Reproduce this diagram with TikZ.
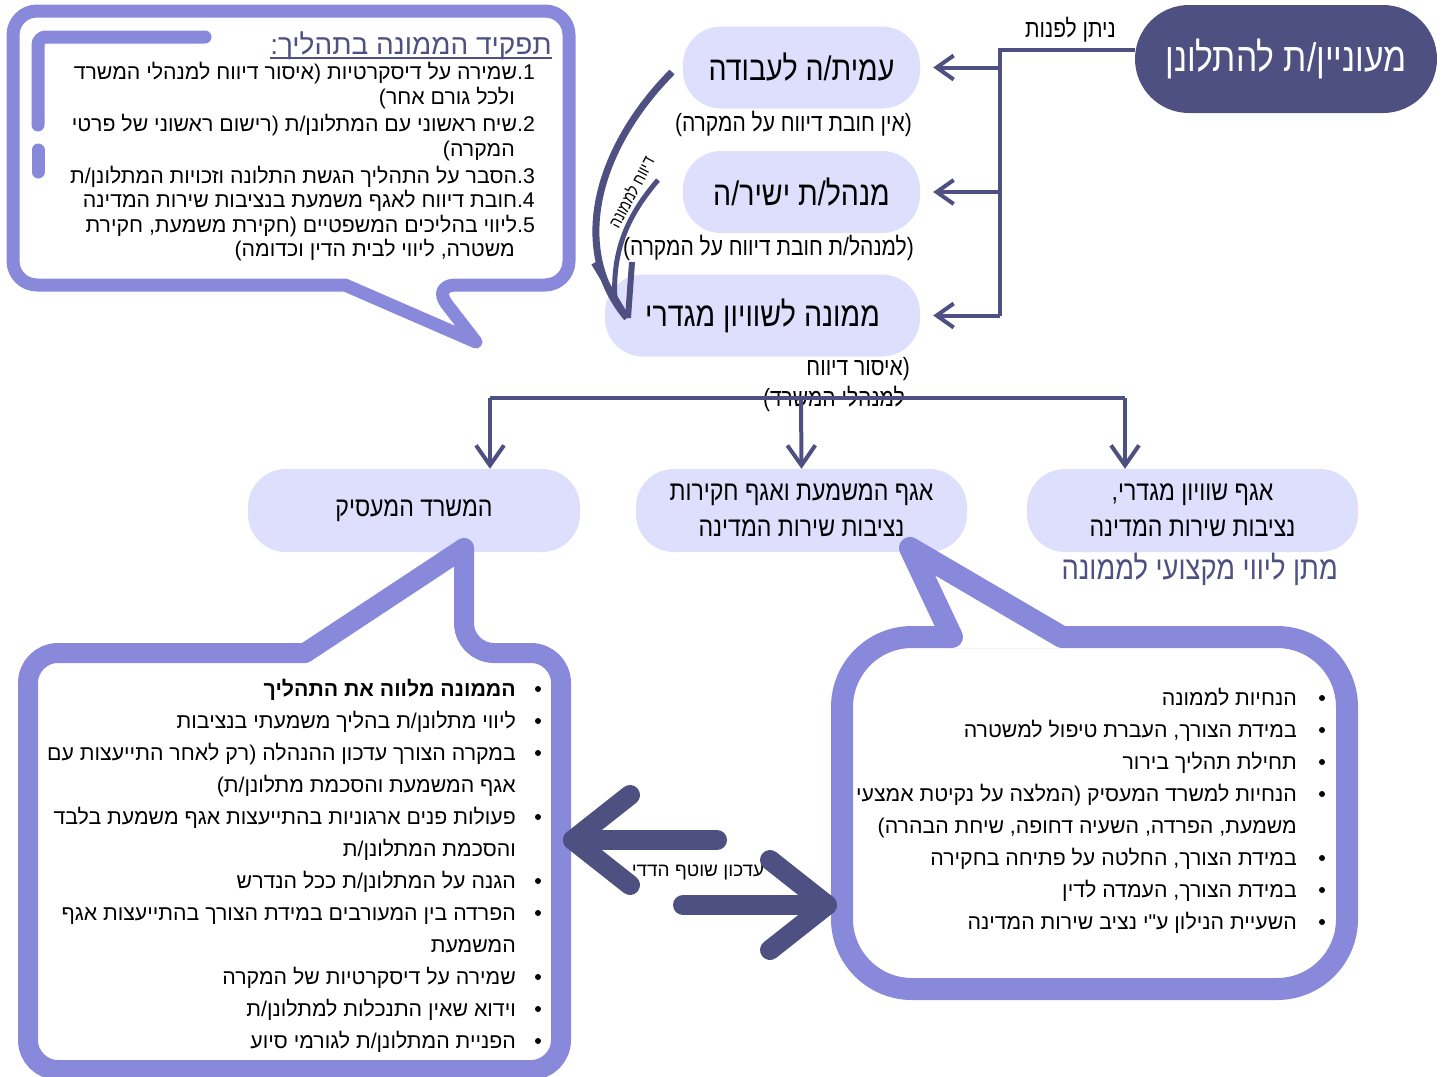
\documentclass[tikz,border=0pt]{standalone}
\usepackage{fontspec}
\usepackage{tikz}
\usetikzlibrary{arrows.meta}
\TeXXeTstate=1
\newfontfamily\hebfont[Script=Hebrew]{Liberation Sans}
\newfontfamily\hebcond[Script=Hebrew,FakeStretch=0.84]{Liberation Sans}
\newcommand{\rtl}[1]{\beginR #1\endR}
\definecolor{darkp}{HTML}{4E5082}
\definecolor{lightp}{HTML}{DEDFFD}
\definecolor{callp}{HTML}{8889DB}
\tikzset{softbox/.style={fill=lightp,rounded corners=38pt,inner sep=0pt,align=center}}
\tikzset{link/.style={draw=darkp,line width=4pt,-{Straight Barb[length=17pt,width=24pt]}}}
\tikzset{downlink/.style={draw=darkp,line width=4pt,-{Straight Barb[length=20pt,width=28pt]}}}
\tikzset{bubble/.style={draw=callp,fill=white,line join=round}}
\tikzset{sidenote/.style={font=\hebcond\fontsize{25}{28}\selectfont,anchor=base east,inner sep=0pt}}
\tikzset{listline/.style={font=\hebfont\fontsize{21.3}{25}\selectfont,anchor=base east,inner sep=0pt}}
\tikzset{dotmark/.style={circle,fill=black,inner sep=0pt,minimum size=6pt}}
\tikzset{bigarrow/.style={draw=darkp,line width=20pt,line cap=round,line join=round}}

\begin{document}
\begin{tikzpicture}[x=1pt,y=-1pt]
    \useasboundingbox (0,0) rectangle (1445,1076);
    \node[fill=darkp,rounded corners=54pt,inner sep=0pt,minimum width=302pt,minimum height=108pt,text=white,font=\hebcond\fontsize{40}{42}\selectfont] (comp) at (1286,59) {\rtl{מעוניין/ת להתלונן}};
    \node[softbox,minimum width=237pt,minimum height=82pt,font=\hebcond\fontsize{34}{36}\selectfont] (emp) at (801.5,67.5) {\rtl{עמית/ה לעבודה}};
    \node[softbox,minimum width=237pt,minimum height=82pt,font=\hebcond\fontsize{34}{36}\selectfont] (mgr) at (801.5,192) {\rtl{מנהל/ת ישיר/ה}};
    \node[softbox,minimum width=315pt,minimum height=82pt,font=\hebcond\fontsize{34}{36}\selectfont] (mem) at (762.5,315.5) {\rtl{ממונה לשוויון מגדרי}};
    \node[sidenote] (empnote) at (912,131) {\rtl{(אין חובת דיווח על המקרה)}};
    \node[sidenote] (mgrnote) at (914,255) {\rtl{(למנהל/ת חובת דיווח על המקרה)}};
    \node[sidenote] (memnote) at (910,375) {\rtl{(איסור דיווח}};
    \node[sidenote] (memnoteb) at (905,406) {\rtl{למנהלי המשרד)}};
    \node[sidenote] (canlbl) at (1116,37) {\rtl{ניתן לפנות}};

    \coordinate (split) at (1000,50);
    \draw[draw=darkp,line width=4pt] (split -| comp.west) -- (split) -- (split |- mem.east);
    \draw[link,shorten >=13pt] (split |- emp.east) -- (emp.east);
    \draw[link,shorten >=13pt] (split |- mgr.east) -- (mgr.east);
    \draw[link,shorten >=13pt] (split |- mem.east) -- (mem.east);

    \draw[darkp,line width=7pt] (672,72) .. controls (595,150) and (570,250) .. (627,318);
    \draw[darkp,line width=5pt] (658,180) .. controls (628,215) and (612,250) .. (615,300);
    \draw[darkp,line width=6pt] (594,263) -- (627,318);
    \draw[darkp,line width=6pt] (632,262) -- (628,318);
    \node[rotate=62,font=\hebcond\fontsize{17}{19}\selectfont] (replbl) at (631,192) {\rtl{דיווח לממונה}};

    \node[softbox,minimum width=332pt,minimum height=83pt,font=\hebcond\fontsize{27.5}{36}\selectfont] (office) at (414,510.5) {\rtl{המשרד המעסיק}};
    \node[softbox,minimum width=331pt,minimum height=83pt,font=\hebcond\fontsize{27.5}{36}\selectfont] (discip) at (801.5,510.5) {\rtl{אגף המשמעת ואגף חקירות}\\\rtl{נציבות שירות המדינה}};
    \node[softbox,minimum width=331pt,minimum height=83pt,font=\hebcond\fontsize{27.5}{36}\selectfont] (gender) at (1192.5,510.5) {\rtl{אגף שוויון מגדרי,}\\\rtl{נציבות שירות המדינה}};
    \node[anchor=base east,inner sep=0pt,text=darkp,font=\hebcond\fontsize{32.5}{34}\selectfont] (advice) at (1338,579) {\rtl{מתן ליווי מקצועי לממונה}};

    \coordinate (busL) at (490,398);
    \coordinate (busM) at (801,398);
    \coordinate (busR) at (1125,398);
    \draw[draw=darkp,line width=4pt] (busL) -- (busR);
    \draw[downlink] (busL) -- (busL |- office.north);
    \draw[downlink] (busM) -- (discip.north);
    \draw[downlink] (busR) -- (busR |- gender.north);

    \draw[bubble,line width=13pt] (345,285) [rounded corners=24pt] -- (13,285) -- (13,11) -- (569,11) -- (569,285) -- (432,285) [sharp corners] -- (476,342) -- cycle;
    \draw[callp,line width=13pt,line cap=round,rounded corners=8pt] (38,125) -- (38,37) -- (205,37);
    \draw[callp,line width=13pt,line cap=round] (38,150) -- (38,172);
    \node[anchor=base east,inner sep=0pt,text=darkp,font=\hebfont\fontsize{28}{30}\selectfont] (roletitle) at (552,54) {\rtl{תפקיד הממונה בתהליך:}};
    \draw[darkp,line width=1.5pt] ([yshift=-4pt]roletitle.base west) -- ([yshift=-4pt]roletitle.base east);
    \node[listline] (r1) at (535,79) {\rtl{1.שמירה על דיסקרטיות (איסור דיווח למנהלי המשרד}};
    \node[listline] (r1b) at (515,104) {\rtl{ולכל גורם אחר)}};
    \node[listline] (r2) at (535,131) {\rtl{2.שיח ראשוני עם המתלונן/ת (רישום ראשוני של פרטי}};
    \node[listline] (r2b) at (515,156) {\rtl{המקרה)}};
    \node[listline] (r3) at (535,183) {\rtl{3.הסבר על התהליך הגשת התלונה וזכויות המתלונן/ת}};
    \node[listline] (r4) at (535,207) {\rtl{4.חובת דיווח לאגף משמעת בנציבות שירות המדינה}};
    \node[listline] (r5) at (535,232) {\rtl{5.ליווי בהליכים המשפטיים (חקירת משמעת, חקירת}};
    \node[listline] (r5b) at (515,256) {\rtl{משטרה, ליווי לבית הדין וכדומה)}};

    \draw[bubble,line width=20pt] (305,653) [rounded corners=30pt] -- (28,653) -- (28,1070) -- (561,1070) -- (561,653) -- (464,653) [sharp corners] -- (464,548) -- cycle;
    \foreach \y/\txt [count=\k] in {689/{\bfseries הממונה מלווה את התהליך},
        721/{ליווי מתלונן/ת בהליך משמעתי בנציבות},
        753/{במקרה הצורך עדכון ההנהלה (רק לאחר התייעצות עם},
        785/{אגף המשמעת והסכמת מתלונן/ת)},
        817/{פעולות פנים ארגוניות בהתייעצות אגף משמעת בלבד},
        849/{והסכמת המתלונן/ת},
        881/{הגנה על המתלונן/ת ככל הנדרש},
        913/{הפרדה בין המעורבים במידת הצורך בהתייעצות אגף},
        945/{המשמעת},
        977/{שמירה על דיסקרטיות של המקרה},
        1009/{וידוא שאין התנכלות למתלונן/ת},
        1041/{הפניית המתלונן/ת לגורמי סיוע}}
        \node[listline] (bl\k) at (516,\y+7) {\rtl{\txt}};
    \foreach \y in {689,721,753,817,881,913,977,1009,1041}
        \node[dotmark] (bd\y) at (538,\y) {};

    \draw[bubble,line width=22pt,rounded corners=70pt] (842,637) rectangle (1347,989);
    \fill[white] (952,637) -- (910,548) -- (1062,637) -- (1062,648) -- (952,648) -- cycle;
    \draw[callp,line width=22pt,line join=round,line cap=round] (952,637) -- (910,548) -- (1062,637);
    \foreach \y/\txt [count=\k] in {698/{הנחיות לממונה},
        730/{במידת הצורך, העברת טיפול למשטרה},
        762/{תחילת תהליך בירור},
        794/{הנחיות למשרד המעסיק (המלצה על נקיטת אמצעי},
        826/{משמעת, הפרדה, השעיה דחופה, שיחת הבהרה)},
        858/{במידת הצורך, החלטה על פתיחה בחקירה},
        890/{במידת הצורך, העמדה לדין},
        922/{השעיית הנילון ע"י נציב שירות המדינה}}
        \node[listline] (br\k) at (1297,\y+7) {\rtl{\txt}};
    \foreach \y in {698,730,762,794,858,890,922}
        \node[dotmark] (bq\y) at (1322,\y) {};

    \node[font=\hebfont\fontsize{19}{22}\selectfont] (mutual) at (698,872) {\rtl{עדכון שוטף הדדי}};
    \coordinate (lshaft) at (717,840);
    \coordinate (ltip) at (573,840);
    \coordinate (rshaft) at (683,905);
    \coordinate (rtip) at (827,905);
    \draw[bigarrow] (lshaft) -- (ltip);
    \draw[bigarrow] (630,795) -- (ltip) -- (630,885);
    \draw[bigarrow] (rshaft) -- (rtip);
    \draw[bigarrow] (770,860) -- (rtip) -- (770,950);
\end{tikzpicture}
\end{document}
